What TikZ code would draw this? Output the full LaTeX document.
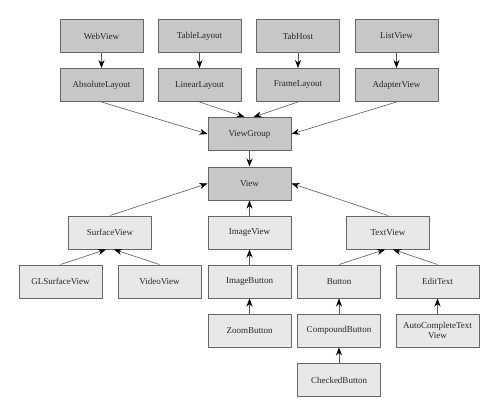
\documentclass[tikz,border=0pt]{standalone}
\usepackage{fontspec}
\setmainfont{Liberation Serif}
\usetikzlibrary{arrows.meta}
\tikzset{
  darkbox/.style={draw=black!60,line width=1pt,fill=black!22,minimum width=83pt,minimum height=33pt,inner sep=1pt,font=\fontsize{9}{10}\selectfont,text=black!85},
  lightbox/.style={darkbox,fill=black!9},
  link/.style={->,draw=black!65,line width=.6pt}
}
\begin{document}
\begin{tikzpicture}[>={Stealth[length=8pt,width=6pt,color=black]},x=1pt,y=-1pt,line join=round]
			\useasboundingbox (0,0) rectangle (501,407);
			% top rows
			\node[darkbox] (web) at (101.5,36) {WebView};
			\node[darkbox] (tbl) at (199.5,36) {TableLayout};
			\node[darkbox] (tab) at (298,36) {TabHost};
			\node[darkbox] (lst) at (396.5,36) {ListView};
			\node[darkbox] (abs) at (101.5,85) {AbsoluteLayout};
			\node[darkbox] (lin) at (199.5,85) {LinearLayout};
			\node[darkbox] (frm) at (298,85) {FrameLayout};
			\node[darkbox] (adp) at (396.5,85) {AdapterView};
			\node[darkbox] (vg) at (249.5,134) {ViewGroup};
			\node[darkbox] (view) at (249.5,183.5) {View};
			% lower part
			\node[lightbox] (sfc) at (110,232.5) {SurfaceView};
			\node[lightbox] (img) at (249.5,232.5) {ImageView};
			\node[lightbox] (txt) at (388,232.5) {TextView};
			\node[lightbox] (gls) at (60.5,281.5) {GLSurfaceView};
			\node[lightbox] (vid) at (159.5,281.5) {VideoView};
			\node[lightbox] (ibtn) at (249.5,281.5) {ImageButton};
			\node[lightbox] (btn) at (339,281.5) {Button};
			\node[lightbox] (edt) at (437.5,281.5) {EditText};
			\node[lightbox] (zbtn) at (249.5,330.5) {ZoomButton};
			\node[lightbox] (cmp) at (339,330.5) {CompoundButton};
			\node[lightbox,align=center] (acv) at (437.5,330.5) {AutoCompleteText\\View};
			\node[lightbox] (chk) at (339,380) {CheckedButton};
			% connectors
			\draw[link] (web)--(abs);
			\draw[link] (tbl)--(lin);
			\draw[link] (tab)--(frm);
			\draw[link] (lst)--(adp);
			\draw[link] (abs.south)--(vg.west);
			\draw[link] (lin.south)--([xshift=-5pt]vg.north);
			\draw[link] (frm.south)--([xshift=4pt]vg.north);
			\draw[link] (adp.south)--(vg.east);
			\draw[link] (vg)--(view);
			\draw[link] (sfc.north)--(view.west);
			\draw[link] (img)--(view);
			\draw[link] (txt.north)--(view.east);
			\draw[link] (gls.north)--([xshift=-4pt]sfc.south);
			\draw[link] (vid.north)--([xshift=4pt]sfc.south);
			\draw[link] (ibtn)--(img);
			\draw[link] (zbtn)--(ibtn);
			\draw[link] (btn.north)--([xshift=-3pt]txt.south);
			\draw[link] (edt.north)--([xshift=5pt]txt.south);
			\draw[link] (cmp)--(btn);
			\draw[link] (chk)--(cmp);
			\draw[link] (acv)--(edt);
	\end{tikzpicture}
\end{document}
